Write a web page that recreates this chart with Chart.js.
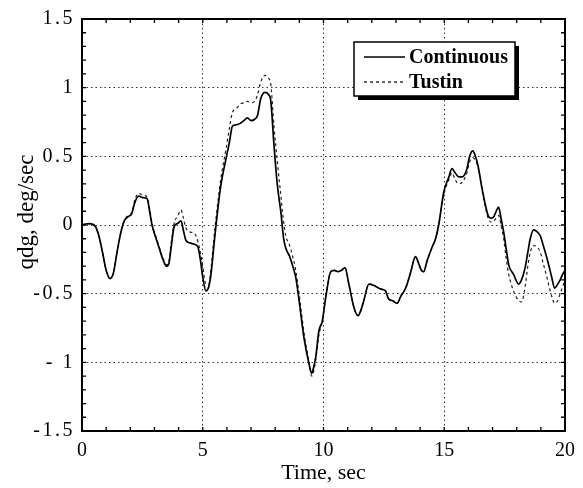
<!DOCTYPE html>
<html>
<head>
<meta charset="utf-8">
<script src="https://cdn.jsdelivr.net/npm/chart.js@4"></script>
<style>
html,body{margin:0;padding:0;background:#fff;}
#wrap{width:583px;height:488px;position:relative;}
</style>
</head>
<body>
<div id="wrap"><canvas id="c" width="583" height="488"></canvas></div>
<script>
// ---- data ----
const timeSec = [0,0.3,0.55,0.7,0.85,1.0,1.16,1.3,1.45,1.6,1.75,1.9,2.05,2.2,2.35,2.5,2.7,2.8,2.9,3.05,3.2,3.35,3.5,3.6,3.7,3.82,3.95,4.1,4.2,4.3,4.45,4.65,4.8,4.9,5.0,5.13,5.25,5.34,5.45,5.55,5.75,5.96,6.1,6.23,6.4,6.55,6.7,6.85,7.0,7.15,7.27,7.4,7.58,7.72,7.82,7.95,8.09,8.23,8.35,8.44,8.6,8.71,8.85,8.99,9.19,9.4,9.51,9.6,9.68,9.81,9.95,10.09,10.3,10.45,10.6,10.75,10.89,11.05,11.26,11.43,11.55,11.67,11.88,12.09,12.29,12.45,12.57,12.7,12.85,13.05,13.2,13.4,13.6,13.81,13.92,14.05,14.15,14.29,14.5,14.64,14.77,14.98,15.19,15.32,15.45,15.6,15.74,15.94,16.05,16.18,16.29,16.4,16.56,16.7,16.84,16.95,17.05,17.15,17.25,17.35,17.46,17.57,17.67,17.87,18.08,18.2,18.35,18.46,18.56,18.7,18.85,18.98,19.1,19.25,19.45,19.57,19.7,19.8,19.9,20.0];

const continuous = [0.0,0.01,-0.01,-0.08,-0.2,-0.33,-0.39,-0.35,-0.2,-0.06,0.03,0.06,0.08,0.17,0.21,0.2,0.19,0.1,0.0,-0.09,-0.17,-0.25,-0.3,-0.28,-0.15,-0.01,0.01,0.03,-0.04,-0.11,-0.13,-0.14,-0.16,-0.25,-0.38,-0.48,-0.45,-0.36,-0.17,0.0,0.29,0.48,0.6,0.72,0.73,0.74,0.76,0.78,0.76,0.77,0.8,0.92,0.965,0.95,0.9,0.58,0.29,0.1,-0.1,-0.17,-0.23,-0.29,-0.38,-0.55,-0.82,-1.01,-1.08,-1.03,-0.96,-0.77,-0.7,-0.53,-0.34,-0.33,-0.34,-0.33,-0.31,-0.43,-0.6,-0.66,-0.62,-0.55,-0.43,-0.44,-0.46,-0.47,-0.48,-0.54,-0.55,-0.57,-0.52,-0.46,-0.35,-0.23,-0.27,-0.33,-0.34,-0.26,-0.16,-0.1,0.0,0.24,0.35,0.41,0.38,0.35,0.35,0.41,0.5,0.54,0.5,0.43,0.27,0.15,0.06,0.05,0.06,0.1,0.13,0.05,-0.05,-0.18,-0.29,-0.36,-0.43,-0.4,-0.31,-0.2,-0.1,-0.035,-0.05,-0.08,-0.15,-0.24,-0.38,-0.46,-0.43,-0.4,-0.36,-0.33];

const tustin = [0.0,0.01,-0.01,-0.08,-0.2,-0.33,-0.39,-0.35,-0.2,-0.06,0.03,0.07,0.09,0.19,0.23,0.22,0.2,0.12,0.01,-0.08,-0.16,-0.24,-0.29,-0.26,-0.12,0.02,0.06,0.11,0.05,-0.02,-0.05,-0.06,-0.12,-0.2,-0.3,-0.43,-0.43,-0.32,-0.12,0.05,0.34,0.55,0.7,0.82,0.85,0.88,0.89,0.9,0.89,0.9,0.95,1.04,1.09,1.07,1.02,0.72,0.46,0.22,0.02,-0.08,-0.15,-0.22,-0.33,-0.5,-0.78,-1.0,-1.1,-1.06,-0.98,-0.8,-0.7,-0.53,-0.34,-0.33,-0.34,-0.33,-0.31,-0.43,-0.6,-0.66,-0.62,-0.55,-0.43,-0.44,-0.46,-0.47,-0.48,-0.54,-0.55,-0.57,-0.52,-0.46,-0.35,-0.23,-0.27,-0.33,-0.34,-0.26,-0.16,-0.1,0.0,0.22,0.33,0.38,0.33,0.3,0.31,0.38,0.46,0.49,0.47,0.42,0.26,0.13,0.04,0.02,0.03,0.05,0.07,0.0,-0.1,-0.25,-0.36,-0.48,-0.55,-0.56,-0.45,-0.3,-0.2,-0.15,-0.16,-0.2,-0.28,-0.38,-0.52,-0.57,-0.55,-0.5,-0.45,-0.4];

const xTicks = [0,5,10,15,20];
const yTicks = [-1.5,-1,-0.5,0,0.5,1,1.5];
const yTickLabels = ['-1.5','- 1','-0.5','0','0.5','1','1.5'];
const seriesLabels = ['Continuous','Tustin'];
const xTitle = 'Time, sec';
const yTitle = 'qdg, deg/sec';

const toPts = (vals) => timeSec.map((t,i)=>({x:t,y:vals[i]}));
const serif = '"Liberation Serif","Times New Roman",serif';

const framePlugin = {
  id:'frame',
  afterDatasetsDraw(chart){
    const {ctx, chartArea:a, scales:{x,y}} = chart;
    ctx.save();
    ctx.strokeStyle='#000';
    ctx.lineWidth=1.3;
    ctx.beginPath();
    for(let v=1; v<20; v++){
      const px = x.getPixelForValue(v);
      const len = 4;
      ctx.moveTo(px,a.bottom); ctx.lineTo(px,a.bottom-len);
      ctx.moveTo(px,a.top); ctx.lineTo(px,a.top+len);
    }
    for(let k=-14; k<=14; k++){
      const py = y.getPixelForValue(k/10);
      const len = 4;
      ctx.moveTo(a.left,py); ctx.lineTo(a.left+len,py);
      ctx.moveTo(a.right,py); ctx.lineTo(a.right-len,py);
    }
    ctx.stroke();
    ctx.lineWidth=2;
    ctx.strokeRect(a.left,a.top,a.right-a.left,a.bottom-a.top);
    // y-axis title
    ctx.translate(33, (a.top+a.bottom)/2 - 13);
    ctx.rotate(-Math.PI/2);
    ctx.font='23px '+serif;
    ctx.fillStyle='#000';
    ctx.textAlign='center';
    ctx.textBaseline='alphabetic';
    ctx.fillText(yTitle,0,0);
    ctx.restore();
    // spaced lettering for the y tick labels (drawn next, z=1)
    ctx.letterSpacing='2.5px';
  },
  afterDraw(chart){
    const {ctx} = chart;
    ctx.letterSpacing='0px';
    const ds = chart.data.datasets;
    const bx=354, by=42, bw=161, bh=54;
    ctx.save();
    ctx.fillStyle='#000';
    ctx.fillRect(bx+4,by+4,bw,bh);
    ctx.fillStyle='#fff';
    ctx.fillRect(bx,by,bw,bh);
    ctx.strokeStyle='#000';
    ctx.lineWidth=1.5;
    ctx.strokeRect(bx,by,bw,bh);
    ctx.font='bold 20px '+serif;
    ctx.textBaseline='middle';
    ctx.fillStyle='#000';
    const rows=[57,82];
    ds.forEach((d,i)=>{
      ctx.beginPath();
      ctx.lineWidth=d.borderWidth;
      ctx.setLineDash(d.borderDash||[]);
      ctx.moveTo(364,rows[i]); ctx.lineTo(405,rows[i]);
      ctx.stroke();
      ctx.setLineDash([]);
      ctx.fillText(d.label,409,rows[i]+1);
    });
    ctx.restore();
  }
};

new Chart(document.getElementById('c'),{
  type:'scatter',
  data:{datasets:[
    {label:seriesLabels[0],data:toPts(continuous),showLine:true,borderColor:'#000',borderWidth:1.7,pointRadius:0,cubicInterpolationMode:'monotone',fill:false},
    {label:seriesLabels[1],data:toPts(tustin),showLine:true,borderColor:'#222',borderWidth:1.2,borderDash:[3,3],pointRadius:0,cubicInterpolationMode:'monotone',fill:false}
  ]},
  options:{
    responsive:false,animation:false,
    layout:{padding:{top:16,right:17,left:0,bottom:0}},
    plugins:{legend:{display:false},tooltip:{enabled:false}},
    scales:{
      x:{type:'linear',min:0,max:20,
        afterBuildTicks(s){s.ticks=xTicks.map(v=>({value:v}));},
        afterFit(s){s.height=57;},
        ticks:{color:'#000',font:{family:serif,size:20},padding:8,maxRotation:0},
        grid:{color:(c)=>(c.tick && (c.tick.value===0||c.tick.value===20))?'rgba(0,0,0,0)':'#333',lineWidth:1,drawTicks:false},
        border:{display:false,dash:[1.5,3]},
        title:{display:true,text:xTitle,color:'#000',font:{family:serif,size:22},padding:{top:0,bottom:2}}
      },
      y:{type:'linear',min:-1.5,max:1.5,
        afterBuildTicks(s){s.ticks=yTicks.map(v=>({value:v}));},
        afterFit(s){s.width=82;},
        ticks:{color:'#000',font:{family:serif,size:20},padding:7,z:1,
          callback:(v)=>{const i=yTicks.indexOf(v);return i>=0?yTickLabels[i]:'';}},
        grid:{color:(c)=>(c.tick && (c.tick.value===1.5||c.tick.value===-1.5))?'rgba(0,0,0,0)':'#333',lineWidth:1,drawTicks:false},
        border:{display:false,dash:[1.5,3]},
        title:{display:false}
      }
    }
  },
  plugins:[framePlugin]
});
</script>
</body>
</html>
